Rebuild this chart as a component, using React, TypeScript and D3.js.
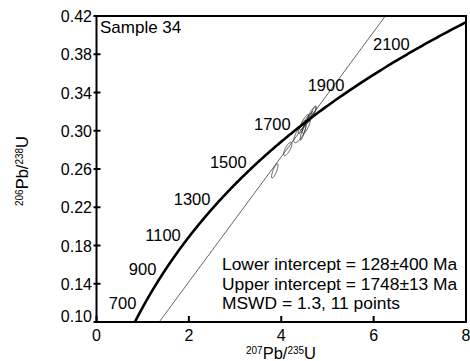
import * as d3 from "d3"

// decay constants (per year)
const L238 = 1.55125e-10
const L235 = 9.8485e-10

const xTicks = [0, 2, 4, 6, 8]
const yTicks = [0.1, 0.14, 0.18, 0.22, 0.26, 0.3, 0.34, 0.38, 0.42]
const ageLabels = [700, 900, 1100, 1300, 1500, 1700, 1900, 2100]

// analyses: 207/235, 206/238, errors, error correlation
const spotX = [3.86, 4.14, 4.4, 4.45, 4.5, 4.55, 4.58, 4.62, 4.66, 4.48, 4.7]
const spotY = [0.258, 0.281, 0.297, 0.304, 0.309, 0.306, 0.312, 0.314, 0.318, 0.3, 0.32]
const spotSx = [0.07, 0.09, 0.13, 0.08, 0.1, 0.09, 0.08, 0.07, 0.09, 0.07, 0.06]
const spotSy = [0.0075, 0.007, 0.0095, 0.007, 0.008, 0.009, 0.006, 0.006, 0.007, 0.01, 0.006]
const spotRho = [0.8, 0.75, 0.75, 0.8, 0.85, 0.8, 0.8, 0.85, 0.85, 0.9, 0.8]

const interceptsMa = [128, 1748]
const notes = ["Lower intercept = 128±400 Ma", "Upper intercept = 1748±13 Ma", "MSWD = 1.3, 11 points"]

const W = 470
const H = 361
const left = 96.5
const right = 466
const top = 16
const bottom = 322
const font = "'Liberation Sans', Arial, Helvetica, sans-serif"

function concordia(tMa: number): [number, number] {
  const t = tMa * 1e6
  return [Math.expm1(L235 * t), Math.expm1(L238 * t)]
}

export default function App() {
  const x = d3.scaleLinear().domain([0, 8]).range([left, right])
  const y = d3.scaleLinear().domain([0.1, 0.42]).range([bottom, top])

  const line = d3.line<[number, number]>().x(d => x(d[0])).y(d => y(d[1]))

  const curve = line(d3.range(500, 2400, 5).map(concordia))

  // discordia through the two intercepts, extended past the frame
  const [a, b] = interceptsMa.map(concordia)
  const slope = (b[1] - a[1]) / (b[0] - a[0])
  const disc = line([-1, 9].map(v => [v, a[1] + slope * (v - a[0])] as [number, number]))

  const theta = d3.range(0, Math.PI * 2, Math.PI / 40)
  const ellipse = d3.line<[number, number]>()
    .x(d => x(d[0])).y(d => y(d[1]))
    .curve(d3.curveLinearClosed)

  return (
    <svg width={W} height={H} style={{ position: "absolute", left: 0, top: 0 }} fontFamily={font}>
      <defs>
        <clipPath id="plot">
          <rect x={left} y={top} width={right - left} height={bottom - top} />
        </clipPath>
      </defs>

      <g clipPath="url(#plot)">
        {spotX.map((cx, i) => {
          const pts = theta.map(t => [
            cx + spotSx[i] * Math.cos(t),
            spotY[i] + spotSy[i] * (spotRho[i] * Math.cos(t) + Math.sqrt(1 - spotRho[i] ** 2) * Math.sin(t)),
          ] as [number, number])
          return <path key={i} d={ellipse(pts) ?? ""} fill="none" stroke="#333" strokeWidth={0.8} />
        })}
        <path d={disc ?? ""} fill="none" stroke="#222" strokeWidth={0.7} />
        <path d={curve ?? ""} fill="none" stroke="#000" strokeWidth={2.6} />
      </g>

      {ageLabels.map(t => {
        const [cx, cy] = concordia(t)
        return (
          <text key={t} x={x(cx) - 6} y={y(cy) + 1} textAnchor="end" fontSize={16.5}>{t}</text>
        )
      })}

      <rect x={left} y={top} width={right - left} height={bottom - top} fill="none" stroke="#000" strokeWidth={2} />

      {xTicks.map(v => (
        <g key={v}>
          <line x1={x(v)} x2={x(v)} y1={bottom} y2={bottom - 6} stroke="#000" strokeWidth={2} />
          <text x={x(v)} y={bottom + 19} textAnchor="middle" fontSize={16}>{v}</text>
        </g>
      ))}
      {yTicks.map((v, i) => (
        <g key={v}>
          <line x1={left - 3} x2={left + 4} y1={y(v)} y2={y(v)} stroke="#000" strokeWidth={2} />
          <text x={92} y={i === 0 ? y(v) : y(v) + 6} textAnchor="end" fontSize={16}>{v.toFixed(2)}</text>
        </g>
      ))}

      <text x={100} y={33} fontSize={17}>Sample 34</text>

      {notes.map((s, i) => (
        <text key={s} x={222} y={270 + i * 19.7} fontSize={17.4}>{s}</text>
      ))}

      <text x={281} y={359} textAnchor="middle" fontSize={16.5}>
        <tspan fontSize={10} dy={-5}>207</tspan>
        <tspan dy={5}>Pb/</tspan>
        <tspan fontSize={10} dy={-5}>235</tspan>
        <tspan dy={5}>U</tspan>
      </text>

      <text transform="translate(28,171) rotate(-90)" textAnchor="middle" fontSize={16.5}>
        <tspan fontSize={10} dy={-5}>206</tspan>
        <tspan dy={5}>Pb/</tspan>
        <tspan fontSize={10} dy={-5}>238</tspan>
        <tspan dy={5}>U</tspan>
      </text>
    </svg>
  )
}
